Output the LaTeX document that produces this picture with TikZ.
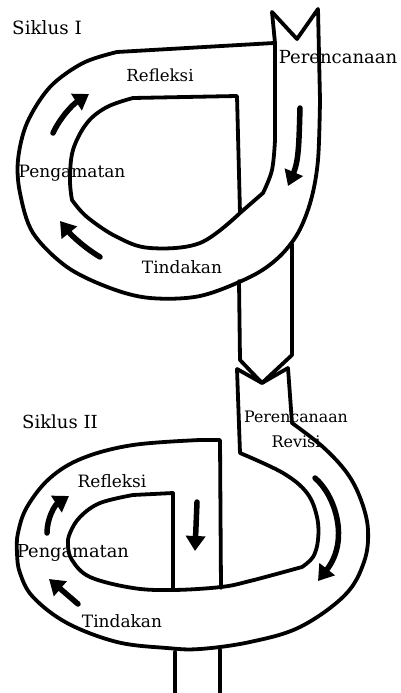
\documentclass[tikz,border=0pt]{standalone}
\usepackage{fontspec}
\setmainfont{DejaVu Serif}
\usetikzlibrary{arrows.meta}
\begin{document}
\begin{tikzpicture}[x=1pt,y=-1pt, line join=round, line cap=round,
  edge/.style={line width=3.8pt},
  flow/.style={line width=5.5pt, -{Triangle[length=15pt,width=19pt]}},
  lbl/.style={inner sep=0pt, font=\fontsize{#1}{20}\selectfont},
  lbl/.default=17]
\useasboundingbox (0,0) rectangle (401,693);
% ---------- cycle I ----------
\draw[edge] (272,12) -- (297,39) -- (318,9);
% outer contour
\draw[edge] (318,9) -- (320,100) -- plot[smooth, tension=0.55] coordinates {(320,100) (318,160) (311,200) (298,233) (278,258) (250,277) (200,296) (150,298) (110,288) (67,267) (33,233) (20,193) (18,160) (27,123) (50,87) (83,63) (117,52)} -- (274,43);
% inner contour
\draw[edge] (272,12) -- (275,43) -- (275,140) -- plot[smooth, tension=0.6] coordinates {(275,140) (272,170) (263,193)} -- (240,213) -- plot[smooth, tension=0.6] coordinates {(240,213) (200,243) (150,248) (117,237) (87,217) (72,200)} -- plot[smooth, tension=0.6] coordinates {(72,200) (70,180) (73,150) (87,123) (107,107) (133,98)} -- (237,96) -- (240,213);
% connector band between the cycles
\draw[edge] (239,281) -- (240,360) -- (262,383) -- (292,355) -- (292,244);
% arrows cycle I
\draw[flow] (300,108) .. controls (299,140) and (299,160) .. (288,186);
\draw[flow] (53,133) .. controls (60,118) and (72,105) .. (89,94);
\draw[flow] (100,257) .. controls (85,248) and (72,236) .. (60,221);
% labels cycle I
\node[lbl=18.3] (s1) at (47,28) {Siklus I};
\node[lbl=18] (p1) at (338,57) {Perencanaan};
\node[lbl=16.6] (r1) at (160,75) {Refleksi};
\node[lbl] (g1) at (72,173) {Pengamatan};
\node[lbl] (t1) at (182,267) {Tindakan};
% ---------- cycle II ----------
\draw[edge] (237,369) -- (262,383) -- (288,368);
% outer contour
\draw[edge] (288,368) -- (292,423) -- plot[smooth, tension=0.6] coordinates {(292,423) (323,447) (347,473) (361,500) (368,530) (364,562) (345,595) (300,627) (250,642) (200,649) (167,648) (117,642) (67,623) (33,597) (20,573) (17,553) (18,533) (27,507) (50,478) (83,458) (133,445) (200,440)} -- (220,440) -- (221,588);
% inner contour
\draw[edge] (237,369) -- (240,453) -- plot[smooth, tension=0.6] coordinates {(240,453) (283,473) (307,493) (317,517) (318,540) (313,557) (302,567)} -- plot[smooth, tension=0.6] coordinates {(302,567) (250,581) (221,587) (173,590) (133,588) (90,577) (72,560) (68,545) (70,533) (80,517) (100,503) (133,495)} -- (173,493) -- (173,590);
% outgoing band
\draw[edge] (175,652) -- (175,693);
\draw[edge] (220,650) -- (220,693);
% arrows cycle II
\draw[flow] (315,478) .. controls (335,495) and (350,540) .. (318,581);
\draw[flow] (197,502) -- (195,551);
\draw[flow] (47,533) .. controls (47,518) and (55,505) .. (69,496);
\draw[flow] (78,604) -- (49,579);
% labels cycle II
\node[lbl=18] (s2) at (60,422) {Siklus II};
\node[lbl=15.8] (p2) at (296,417) {Perencanaan};
\node[lbl=16] (v2) at (296,442) {Revisi};
\node[lbl] (r2) at (112,481) {Refleksi};
\node[lbl=17.8] (g2) at (73,553) {Pengamatan};
\node[lbl] (t2) at (122,621) {Tindakan};
\end{tikzpicture}
\end{document}
